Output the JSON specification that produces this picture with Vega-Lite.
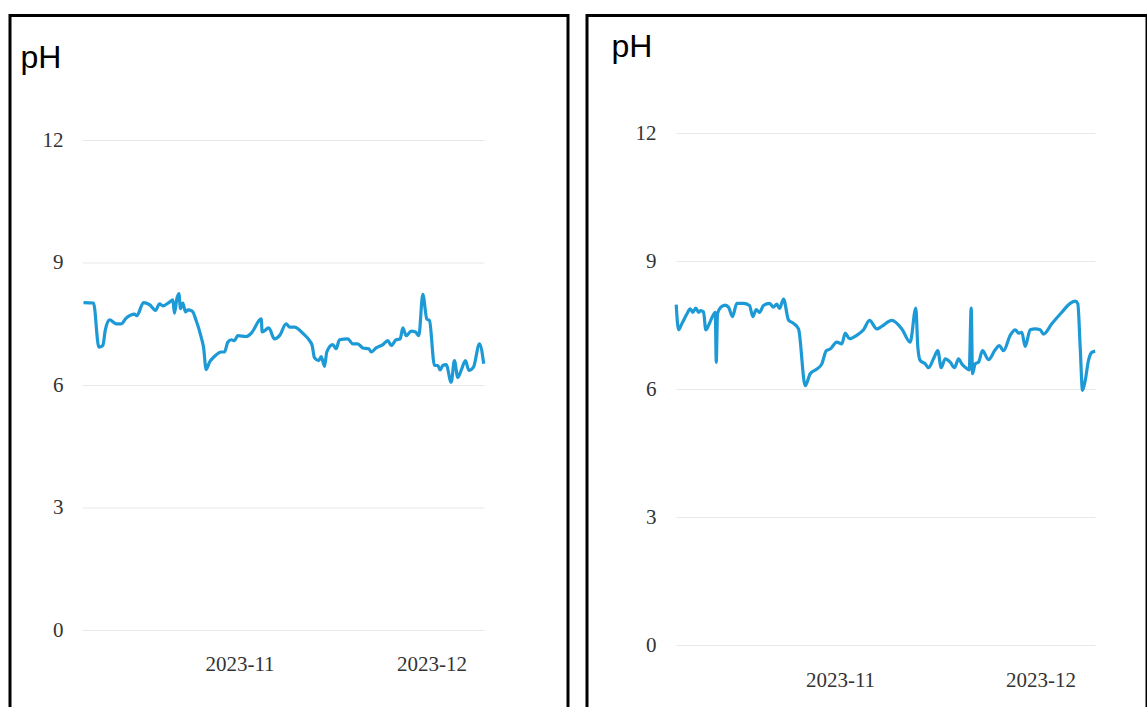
{
  "$schema": "https://vega.github.io/schema/vega-lite/v6.json",
  "padding": {"left": 8, "top": 13.5, "right": 0, "bottom": 0},
  "background": "white",
  "spacing": 15,
  "config": {
    "view": {"stroke": "black", "strokeWidth": 3},
    "axis": {"grid": false, "domain": false, "ticks": false, "labelPadding": 0, "labelFont": "Liberation Serif", "labelFontSize": 21, "labelColor": "#333333", "labelFlush": false}
  },
  "datasets": {
    "gridL": [
      {"start": "2023-10-07T11:15", "end": "2023-12-09T06:45", "ph": 0},
      {"start": "2023-10-07T11:15", "end": "2023-12-09T06:45", "ph": 3},
      {"start": "2023-10-07T11:15", "end": "2023-12-09T06:45", "ph": 6},
      {"start": "2023-10-07T11:15", "end": "2023-12-09T06:45", "ph": 9},
      {"start": "2023-10-07T11:15", "end": "2023-12-09T06:45", "ph": 12}
    ],
    "gridR": [
      {"start": "2023-10-07T12:45", "end": "2023-12-09T05:30", "ph": 0},
      {"start": "2023-10-07T12:45", "end": "2023-12-09T05:30", "ph": 3},
      {"start": "2023-10-07T12:45", "end": "2023-12-09T05:30", "ph": 6},
      {"start": "2023-10-07T12:45", "end": "2023-12-09T05:30", "ph": 9},
      {"start": "2023-10-07T12:45", "end": "2023-12-09T05:30", "ph": 12}
    ],
    "left": [
      {"date": "2023-10-07T15:00", "ph": 8.03},
      {"date": "2023-10-09T04:30", "ph": 8.02},
      {"date": "2023-10-10T00:30", "ph": 6.94},
      {"date": "2023-10-10T15:30", "ph": 6.98},
      {"date": "2023-10-11T00:30", "ph": 7.35},
      {"date": "2023-10-11T16:30", "ph": 7.61},
      {"date": "2023-10-12T17:30", "ph": 7.51},
      {"date": "2023-10-13T12:30", "ph": 7.51},
      {"date": "2023-10-14T07:00", "ph": 7.65},
      {"date": "2023-10-15T14:00", "ph": 7.75},
      {"date": "2023-10-15T23:00", "ph": 7.71},
      {"date": "2023-10-17T00:00", "ph": 8.03},
      {"date": "2023-10-17T22:30", "ph": 7.98},
      {"date": "2023-10-18T21:00", "ph": 7.84},
      {"date": "2023-10-19T12:00", "ph": 8.0},
      {"date": "2023-10-20T00:30", "ph": 7.95},
      {"date": "2023-10-21T01:30", "ph": 8.04},
      {"date": "2023-10-21T14:00", "ph": 8.1},
      {"date": "2023-10-21T20:00", "ph": 7.77},
      {"date": "2023-10-22T05:00", "ph": 8.12},
      {"date": "2023-10-22T12:30", "ph": 8.25},
      {"date": "2023-10-22T18:45", "ph": 7.88},
      {"date": "2023-10-23T03:30", "ph": 8.02},
      {"date": "2023-10-23T13:30", "ph": 7.8},
      {"date": "2023-10-23T22:00", "ph": 7.85},
      {"date": "2023-10-24T14:30", "ph": 7.82},
      {"date": "2023-10-25T05:30", "ph": 7.59},
      {"date": "2023-10-26T00:30", "ph": 7.18},
      {"date": "2023-10-26T09:00", "ph": 6.94},
      {"date": "2023-10-26T19:00", "ph": 6.39},
      {"date": "2023-10-27T07:30", "ph": 6.57},
      {"date": "2023-10-28T02:00", "ph": 6.71},
      {"date": "2023-10-29T03:30", "ph": 6.82},
      {"date": "2023-10-29T16:00", "ph": 6.82},
      {"date": "2023-10-30T04:00", "ph": 7.06},
      {"date": "2023-10-30T17:00", "ph": 7.12},
      {"date": "2023-10-31T05:15", "ph": 7.1},
      {"date": "2023-10-31T17:30", "ph": 7.22},
      {"date": "2023-11-02T01:00", "ph": 7.2},
      {"date": "2023-11-02T20:00", "ph": 7.28},
      {"date": "2023-11-04T09:30", "ph": 7.63},
      {"date": "2023-11-04T13:00", "ph": 7.31},
      {"date": "2023-11-05T14:00", "ph": 7.41},
      {"date": "2023-11-06T11:00", "ph": 7.14},
      {"date": "2023-11-07T06:00", "ph": 7.22},
      {"date": "2023-11-08T07:00", "ph": 7.51},
      {"date": "2023-11-08T19:30", "ph": 7.43},
      {"date": "2023-11-09T14:00", "ph": 7.43},
      {"date": "2023-11-10T21:30", "ph": 7.28},
      {"date": "2023-11-11T22:30", "ph": 7.1},
      {"date": "2023-11-12T08:30", "ph": 6.98},
      {"date": "2023-11-12T17:15", "ph": 6.68},
      {"date": "2023-11-13T09:30", "ph": 6.61},
      {"date": "2023-11-13T18:30", "ph": 6.71},
      {"date": "2023-11-14T06:45", "ph": 6.47},
      {"date": "2023-11-14T15:30", "ph": 6.82},
      {"date": "2023-11-15T14:00", "ph": 7.0},
      {"date": "2023-11-16T02:30", "ph": 6.9},
      {"date": "2023-11-16T15:00", "ph": 7.12},
      {"date": "2023-11-17T22:00", "ph": 7.14},
      {"date": "2023-11-18T17:00", "ph": 7.02},
      {"date": "2023-11-19T11:30", "ph": 7.02},
      {"date": "2023-11-20T06:30", "ph": 6.92},
      {"date": "2023-11-21T05:00", "ph": 6.9},
      {"date": "2023-11-21T14:00", "ph": 6.82},
      {"date": "2023-11-22T08:30", "ph": 6.92},
      {"date": "2023-11-23T09:30", "ph": 7.0},
      {"date": "2023-11-24T04:00", "ph": 7.1},
      {"date": "2023-11-24T17:00", "ph": 6.98},
      {"date": "2023-11-25T11:30", "ph": 7.12},
      {"date": "2023-11-26T02:30", "ph": 7.14},
      {"date": "2023-11-26T12:30", "ph": 7.41},
      {"date": "2023-11-27T01:00", "ph": 7.22},
      {"date": "2023-11-27T20:00", "ph": 7.33},
      {"date": "2023-11-28T12:00", "ph": 7.31},
      {"date": "2023-11-29T00:30", "ph": 7.22},
      {"date": "2023-11-29T15:30", "ph": 8.23},
      {"date": "2023-11-30T06:30", "ph": 7.63},
      {"date": "2023-11-30T16:30", "ph": 7.59},
      {"date": "2023-12-01T11:15", "ph": 6.49},
      {"date": "2023-12-01T23:30", "ph": 6.49},
      {"date": "2023-12-02T08:30", "ph": 6.38},
      {"date": "2023-12-02T18:30", "ph": 6.49},
      {"date": "2023-12-03T07:00", "ph": 6.51},
      {"date": "2023-12-04T02:00", "ph": 6.08},
      {"date": "2023-12-04T14:00", "ph": 6.61},
      {"date": "2023-12-05T02:30", "ph": 6.2},
      {"date": "2023-12-05T15:15", "ph": 6.37},
      {"date": "2023-12-06T07:30", "ph": 6.61},
      {"date": "2023-12-06T20:00", "ph": 6.37},
      {"date": "2023-12-07T13:30", "ph": 6.45},
      {"date": "2023-12-08T12:00", "ph": 7.02},
      {"date": "2023-12-09T04:00", "ph": 6.53}
    ],
    "right": [
      {"date": "2023-10-07T11:45", "ph": 7.99},
      {"date": "2023-10-07T20:00", "ph": 7.4},
      {"date": "2023-10-08T08:00", "ph": 7.54},
      {"date": "2023-10-09T02:00", "ph": 7.77},
      {"date": "2023-10-09T14:00", "ph": 7.89},
      {"date": "2023-10-09T23:30", "ph": 7.81},
      {"date": "2023-10-10T10:00", "ph": 7.91},
      {"date": "2023-10-10T20:00", "ph": 7.81},
      {"date": "2023-10-11T04:00", "ph": 7.85},
      {"date": "2023-10-11T13:45", "ph": 7.82},
      {"date": "2023-10-11T22:00", "ph": 7.4},
      {"date": "2023-10-12T07:45", "ph": 7.5},
      {"date": "2023-10-12T23:15", "ph": 7.73},
      {"date": "2023-10-13T08:00", "ph": 7.81},
      {"date": "2023-10-13T11:30", "ph": 6.64},
      {"date": "2023-10-13T16:00", "ph": 7.77},
      {"date": "2023-10-14T04:00", "ph": 7.93},
      {"date": "2023-10-14T19:45", "ph": 7.98},
      {"date": "2023-10-15T07:45", "ph": 7.93},
      {"date": "2023-10-15T22:00", "ph": 7.71},
      {"date": "2023-10-16T13:30", "ph": 8.02},
      {"date": "2023-10-17T13:30", "ph": 8.02},
      {"date": "2023-10-18T11:00", "ph": 7.97},
      {"date": "2023-10-18T22:45", "ph": 7.71},
      {"date": "2023-10-19T11:00", "ph": 7.87},
      {"date": "2023-10-19T22:45", "ph": 7.81},
      {"date": "2023-10-20T13:15", "ph": 7.97},
      {"date": "2023-10-21T10:45", "ph": 8.02},
      {"date": "2023-10-22T01:15", "ph": 7.93},
      {"date": "2023-10-22T13:00", "ph": 8.0},
      {"date": "2023-10-22T22:45", "ph": 7.9},
      {"date": "2023-10-23T13:10", "ph": 8.12},
      {"date": "2023-10-24T07:00", "ph": 7.63},
      {"date": "2023-10-25T01:00", "ph": 7.55},
      {"date": "2023-10-25T19:00", "ph": 7.42},
      {"date": "2023-10-26T19:00", "ph": 6.09},
      {"date": "2023-10-27T13:00", "ph": 6.37},
      {"date": "2023-10-28T12:45", "ph": 6.48},
      {"date": "2023-10-29T06:45", "ph": 6.6},
      {"date": "2023-10-29T22:30", "ph": 6.91},
      {"date": "2023-10-30T12:45", "ph": 6.95},
      {"date": "2023-10-31T12:30", "ph": 7.11},
      {"date": "2023-11-01T06:30", "ph": 7.07},
      {"date": "2023-11-01T18:45", "ph": 7.32},
      {"date": "2023-11-02T10:00", "ph": 7.19},
      {"date": "2023-11-03T12:15", "ph": 7.27},
      {"date": "2023-11-04T12:30", "ph": 7.4},
      {"date": "2023-11-05T09:50", "ph": 7.62},
      {"date": "2023-11-06T12:15", "ph": 7.42},
      {"date": "2023-11-07T06:00", "ph": 7.48},
      {"date": "2023-11-08T18:00", "ph": 7.62},
      {"date": "2023-11-10T06:00", "ph": 7.42},
      {"date": "2023-11-11T12:00", "ph": 7.11},
      {"date": "2023-11-12T08:15", "ph": 7.91},
      {"date": "2023-11-12T15:30", "ph": 6.99},
      {"date": "2023-11-13T00:00", "ph": 6.68},
      {"date": "2023-11-13T18:00", "ph": 6.6},
      {"date": "2023-11-14T05:45", "ph": 6.51},
      {"date": "2023-11-14T23:45", "ph": 6.72},
      {"date": "2023-11-15T15:10", "ph": 6.91},
      {"date": "2023-11-16T03:20", "ph": 6.51},
      {"date": "2023-11-16T17:45", "ph": 6.72},
      {"date": "2023-11-17T11:45", "ph": 6.64},
      {"date": "2023-11-18T03:10", "ph": 6.51},
      {"date": "2023-11-18T17:30", "ph": 6.72},
      {"date": "2023-11-19T05:30", "ph": 6.6},
      {"date": "2023-11-19T19:45", "ph": 6.51},
      {"date": "2023-11-20T08:00", "ph": 6.46},
      {"date": "2023-11-20T15:10", "ph": 7.91},
      {"date": "2023-11-20T19:55", "ph": 6.37},
      {"date": "2023-11-21T05:30", "ph": 6.6},
      {"date": "2023-11-21T17:20", "ph": 6.64},
      {"date": "2023-11-22T07:40", "ph": 6.91},
      {"date": "2023-11-23T05:15", "ph": 6.7},
      {"date": "2023-11-24T05:20", "ph": 6.93},
      {"date": "2023-11-24T19:40", "ph": 7.03},
      {"date": "2023-11-25T11:15", "ph": 6.91},
      {"date": "2023-11-26T11:15", "ph": 7.27},
      {"date": "2023-11-27T05:15", "ph": 7.4},
      {"date": "2023-11-27T17:00", "ph": 7.32},
      {"date": "2023-11-28T04:50", "ph": 7.34},
      {"date": "2023-11-28T17:00", "ph": 7.01},
      {"date": "2023-11-29T11:00", "ph": 7.4},
      {"date": "2023-11-30T05:00", "ph": 7.42},
      {"date": "2023-11-30T23:00", "ph": 7.4},
      {"date": "2023-12-01T10:50", "ph": 7.3},
      {"date": "2023-12-02T16:35", "ph": 7.54},
      {"date": "2023-12-04T04:30", "ph": 7.81},
      {"date": "2023-12-05T10:45", "ph": 8.02},
      {"date": "2023-12-06T04:35", "ph": 8.07},
      {"date": "2023-12-06T14:00", "ph": 8.01},
      {"date": "2023-12-06T22:35", "ph": 6.99},
      {"date": "2023-12-07T06:55", "ph": 5.98},
      {"date": "2023-12-07T16:35", "ph": 6.21},
      {"date": "2023-12-08T04:20", "ph": 6.68},
      {"date": "2023-12-08T16:15", "ph": 6.87},
      {"date": "2023-12-09T04:30", "ph": 6.9}
    ]
  },
  "hconcat": [
    {
      "width": 558,
      "height": 694,
      "layer": [
        {
          "data": {"name": "gridL"},
          "mark": {"type": "rule", "color": "#e8e8e8", "strokeWidth": 1},
          "encoding": {
            "x": {"field": "start", "type": "temporal",
              "scale": {"domain": [{"year": 2023, "month": 9, "date": 26, "hours": 3, "minutes": 20}, {"year": 2023, "month": 12, "date": 22, "hours": 8}], "nice": false},
              "axis": {"values": [{"year": 2023, "month": 11, "date": 1}, {"year": 2023, "month": 12, "date": 1}], "format": "%Y-%m", "offset": -56, "title": null}},
            "x2": {"field": "end"},
            "y": {"field": "ph", "type": "quantitative",
              "scale": {"domain": [-1.935, 15.061], "nice": false, "zero": false},
              "axis": {"values": [0, 3, 6, 9, 12], "offset": -53, "title": "pH", "titleAngle": 0, "titleX": -43, "titleY": 52, "titleAlign": "left", "titleBaseline": "alphabetic", "titleFont": "Liberation Sans", "titleFontSize": 32, "titleFontWeight": "normal", "titleColor": "black"}}
          }
        },
        {
          "data": {"name": "left"},
          "mark": {"type": "line", "color": "#1d9ad6", "strokeWidth": 3.2, "interpolate": "monotone"},
          "encoding": {
            "x": {"field": "date", "type": "temporal"},
            "y": {"field": "ph", "type": "quantitative"}
          }
        }
      ]
    },
    {
      "width": 560,
      "height": 694,
      "layer": [
        {
          "data": {"name": "gridR"},
          "mark": {"type": "rule", "color": "#e8e8e8", "strokeWidth": 1},
          "encoding": {
            "x": {"field": "start", "type": "temporal",
              "scale": {"domain": [{"year": 2023, "month": 9, "date": 24, "hours": 3, "minutes": 20}, {"year": 2023, "month": 12, "date": 16, "hours": 22, "minutes": 30}], "nice": false},
              "axis": {"values": [{"year": 2023, "month": 11, "date": 1}, {"year": 2023, "month": 12, "date": 1}], "format": "%Y-%m", "offset": -40, "title": null}},
            "x2": {"field": "end"},
            "y": {"field": "ph", "type": "quantitative",
              "scale": {"domain": [-1.5, 14.766], "nice": false, "zero": false},
              "axis": {"values": [0, 3, 6, 9, 12], "offset": -69, "title": "pH", "titleAngle": 0, "titleX": -45, "titleY": 41, "titleAlign": "left", "titleBaseline": "alphabetic", "titleFont": "Liberation Sans", "titleFontSize": 32, "titleFontWeight": "normal", "titleColor": "black"}}
          }
        },
        {
          "data": {"name": "right"},
          "mark": {"type": "line", "color": "#1d9ad6", "strokeWidth": 3.2, "interpolate": "monotone"},
          "encoding": {
            "x": {"field": "date", "type": "temporal"},
            "y": {"field": "ph", "type": "quantitative"}
          }
        }
      ]
    }
  ]
}
